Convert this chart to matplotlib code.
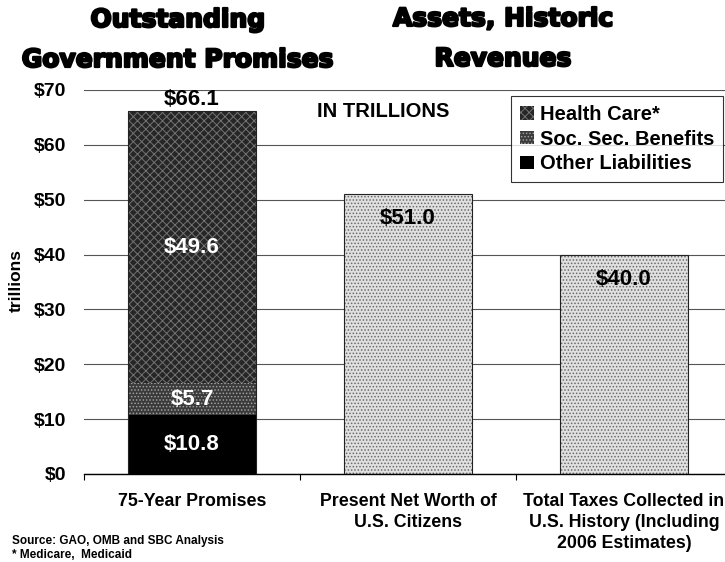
import matplotlib.pyplot as plt
import matplotlib.patheffects as pe
import numpy as np
from matplotlib.patches import Patch

plt.rcParams['font.family'] = ['Liberation Sans', 'DejaVu Sans']
plt.rcParams['font.weight'] = 'bold'
plt.rcParams['hatch.linewidth'] = 0.7

categories = ['75-Year Promises', 'Present Net Worth of\nU.S. Citizens',
              'Total Taxes Collected in\nU.S. History (Including\n2006 Estimates)']
other_liabilities = 10.8
soc_sec_benefits = 5.7
health_care = 49.6
promises_total = 66.1
asset_values = [51.0, 40.0]
y_ticks = [0, 10, 20, 30, 40, 50, 60, 70]

fig = plt.figure(figsize=(7.25, 5.62), dpi=100)
ax = fig.add_axes([84 / 725, 88 / 562, 648 / 725, 384 / 562])

x = np.arange(len(categories))
width = 0.59

# stacked promises bar
segments = [
    (other_liabilities, 'Other Liabilities', '#000000', None, '#000000'),
    (soc_sec_benefits, 'Soc. Sec. Benefits', '#3a3a3a', '.....', '#a0a0a0'),
    (health_care, 'Health Care*', '#262626', 'xxxx', '#727272'),
]
bottom = 0
handles = {}
for val, name, fc, hatch, hc in segments:
    ax.bar(x[0], val, width, bottom=bottom, color=fc, hatch=hatch,
           edgecolor=hc, linewidth=0, zorder=2)
    ax.text(x[0], bottom + val / 2, f'${val:.1f}', ha='center', va='center',
            color='white', fontsize=16, fontweight='bold', zorder=4)
    handles[name] = Patch(facecolor=fc, hatch=hatch, edgecolor=hc, linewidth=0)
    bottom += val
ax.bar(x[0], promises_total, width, fill=False, edgecolor='#222222',
       linewidth=0.8, zorder=3)
ax.text(x[0], promises_total + 0.2, f'${promises_total:.1f}', ha='center',
        va='bottom', fontsize=16, fontweight='bold')

# asset bars
ax.bar(x[1:], asset_values, width, color='#e0e0e0', hatch='.....',
       edgecolor='#6a6a6a', linewidth=0, zorder=2)
ax.bar(x[1:], asset_values, width, fill=False, edgecolor='#222222',
       linewidth=0.8, zorder=3)
for xi, v in zip(x[1:], asset_values):
    ax.text(xi, v - 4.5, f'${v:.1f}', ha='center', va='center',
            fontsize=16, fontweight='bold', zorder=4)

ax.set_xlim(-0.5, len(categories) - 0.5)
ax.set_ylim(0, 70)
ax.set_yticks(y_ticks)
ax.set_yticklabels([f'${t}' for t in y_ticks], fontsize=14, fontweight='bold')
ax.yaxis.grid(True, color='#555555', linewidth=0.8, zorder=0)
ax.tick_params(axis='y', length=0, pad=13)
ax.set_xticks(x)
ax.set_xticklabels(categories, fontsize=12.8, fontweight='bold', va='top',
                   linespacing=1.3)
ax.tick_params(axis='x', length=0, pad=14)
ax.set_xticks([-0.5, 0.5, 1.5], minor=True)
ax.tick_params(axis='x', which='minor', length=4, width=0.8)
for s in ['left', 'right', 'top']:
    ax.spines[s].set_visible(False)
ax.spines['bottom'].set_linewidth(1.0)
ax.set_ylabel('trillions', fontsize=12.5, fontweight='bold')
ax.yaxis.set_label_coords(-0.093, 0.505)

ax.text(0.36, 0.945, 'IN TRILLIONS', transform=ax.transAxes, ha='left',
        va='center', fontsize=14.5, fontweight='bold')

order = ['Health Care*', 'Soc. Sec. Benefits', 'Other Liabilities']
leg = ax.legend([handles[k] for k in order], order, loc='upper right',
                bbox_to_anchor=(723 / 725, 1 - 96 / 562),
                bbox_transform=fig.transFigure, fancybox=False,
                edgecolor='black', handlelength=0.65,
                handleheight=0.65, handletextpad=0.3, labelspacing=0.28,
                borderpad=0.45, borderaxespad=0,
                prop={'weight': 'bold', 'size': 14.5})
leg.get_frame().set_linewidth(0.8)

title_kw = dict(ha='center', va='center', fontsize=18, fontweight='heavy',
                family=['DejaVu Sans'],
                path_effects=[pe.withStroke(linewidth=1.6, foreground='black')])
fig.text(178 / 725, 1 - 20 / 562, 'Outstanding', **title_kw)
fig.text(178 / 725, 1 - 60 / 562, 'Government Promises', **title_kw)
fig.text(503 / 725, 1 - 19 / 562, 'Assets, Historic', **title_kw)
fig.text(503 / 725, 1 - 59 / 562, 'Revenues', **title_kw)

fig.text(12 / 725, 1 - 541 / 562, 'Source: GAO, OMB and SBC Analysis',
         fontsize=8.5, fontweight='bold', va='center')
fig.text(12 / 725, 1 - 555 / 562, '* Medicare,  Medicaid',
         fontsize=8.5, fontweight='bold', va='center')

fig.savefig('out.png', dpi=100)
